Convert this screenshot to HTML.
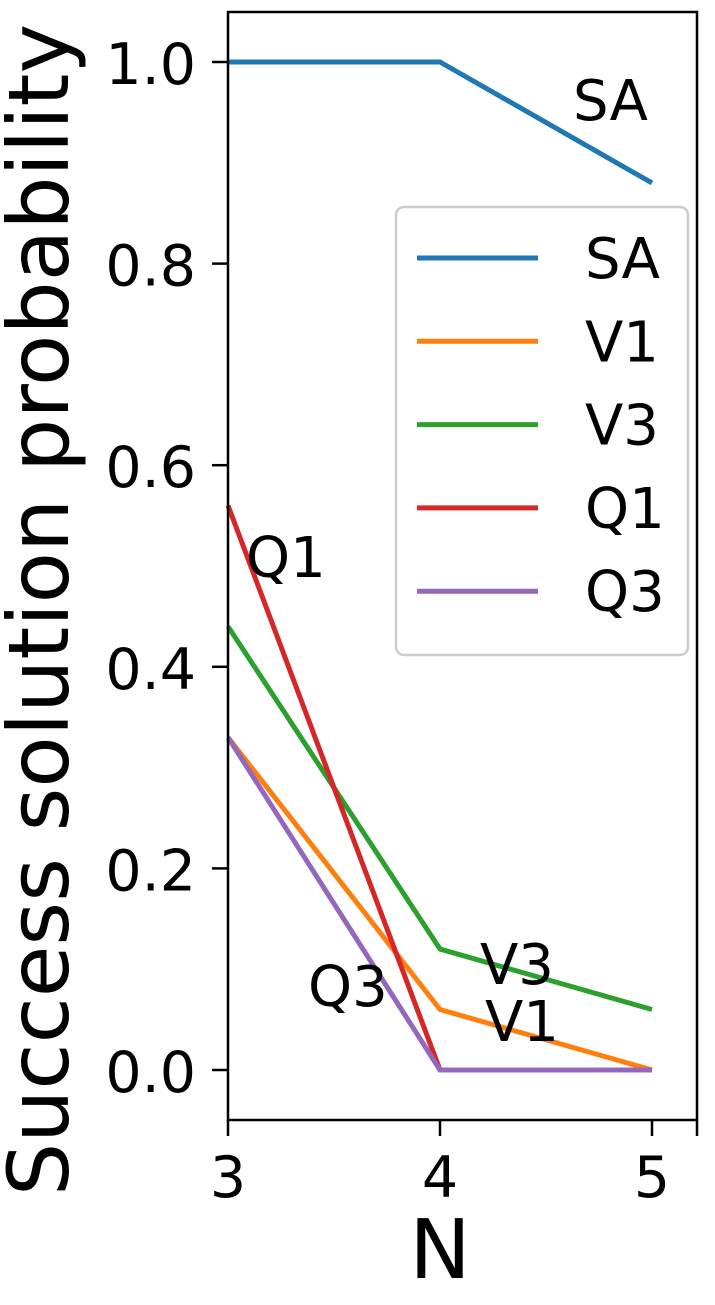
<!DOCTYPE html>
<html><head><meta charset="utf-8"><style>
body{margin:0;background:#fff;}
svg text{font-family:"DejaVu Sans","Liberation Sans",sans-serif;fill:#000;}
</style></head><body>
<svg id="chart" width="715" height="1300" viewBox="0 0 715 1300" xmlns="http://www.w3.org/2000/svg">
<g id="plot"></g>
</svg>
<script>
const categories=[3,4,5];
const seriesNames=["SA","V1","V3","Q1","Q3"];
const saValues=[1.0,1.0,0.88];
const v1Values=[0.33,0.06,0.0];
const v3Values=[0.44,0.12,0.06];
const q1Values=[0.56,0.0,0.0];
const q3Values=[0.33,0.0,0.0];
const yTicks=[0.0,0.2,0.4,0.6,0.8,1.0];
const yTickLabels=["0.0","0.2","0.4","0.6","0.8","1.0"];
const xTicks=[3,4,5];
const xTickLabels=["3","4","5"];
const colors=["#1f77b4","#ff7f0e","#2ca02c","#d62728","#9467bd"];
const allSeries=[saValues,v1Values,v3Values,q1Values,q3Values];

const L=228,R=697,T=12,B=1120;
const xs=v=>228+(v-3)*212;
const ys=v=>1070-v*1008;
const NS="http://www.w3.org/2000/svg";
const g=document.getElementById('plot');
function mk(tag,attrs,parent){const e=document.createElementNS(NS,tag);for(const k in attrs)e.setAttribute(k,attrs[k]);(parent||g).appendChild(e);return e;}

allSeries.forEach((vals,i)=>{
  const p=mk('polyline',{points:vals.map((v,j)=>xs(categories[j])+','+ys(v)).join(' '),fill:'none',stroke:colors[i],'stroke-width':5,'stroke-linejoin':'round'});
  
  
});
const ann=[["SA",573,120],["Q1",246,577],["V3",480,984],["V1",485,1041],["Q3",308,1006]];
ann.forEach(a=>{const t=mk('text',{x:a[1],y:a[2],'font-size':56});t.textContent=a[0];
  
  });
const fr=mk('rect',{x:L,y:T,width:R-L,height:B-T,fill:'none',stroke:'#000','stroke-width':2.5});


yTicks.forEach((v,i)=>{
  mk('line',{x1:L-16,x2:L,y1:ys(v),y2:ys(v),stroke:'#000','stroke-width':2.5});
  const t=mk('text',{x:L-32,y:ys(v)+22,'font-size':57,'text-anchor':'end'});t.textContent=yTickLabels[i];
  
  
});
xTicks.forEach((v,i)=>{
  mk('line',{x1:xs(v),x2:xs(v),y1:B,y2:B+16,stroke:'#000','stroke-width':2.5});
  const t=mk('text',{x:xs(v),y:B+77,'font-size':57,'text-anchor':'middle'});t.textContent=xTickLabels[i];
  
  
});
mk('line',{x1:R,x2:R,y1:B,y2:B+16,stroke:'#000','stroke-width':2.5});
const xt=mk('text',{x:440,y:1278,'font-size':82,'text-anchor':'middle'});xt.textContent="N";


const yt=mk('text',{x:0,y:0,'font-size':84,'text-anchor':'middle',transform:'translate(68,610) rotate(-90)'});yt.textContent="Success solution probability";


const lg=mk('g',{});


mk('rect',{x:396,y:207,width:292,height:448,rx:8,fill:'#fff','fill-opacity':0.8,stroke:'#ccc','stroke-width':2.5},lg);
seriesNames.forEach((n,i)=>{
  const y=258+i*83.3;
  const e=mk('g',{},lg);
  
  
  mk('line',{x1:417,x2:538,y1:y,y2:y,stroke:colors[i],'stroke-width':5},e);
  const t=mk('text',{x:585,y:y+20,'font-size':56},e);t.textContent=n;
});
</script>
</body></html>
